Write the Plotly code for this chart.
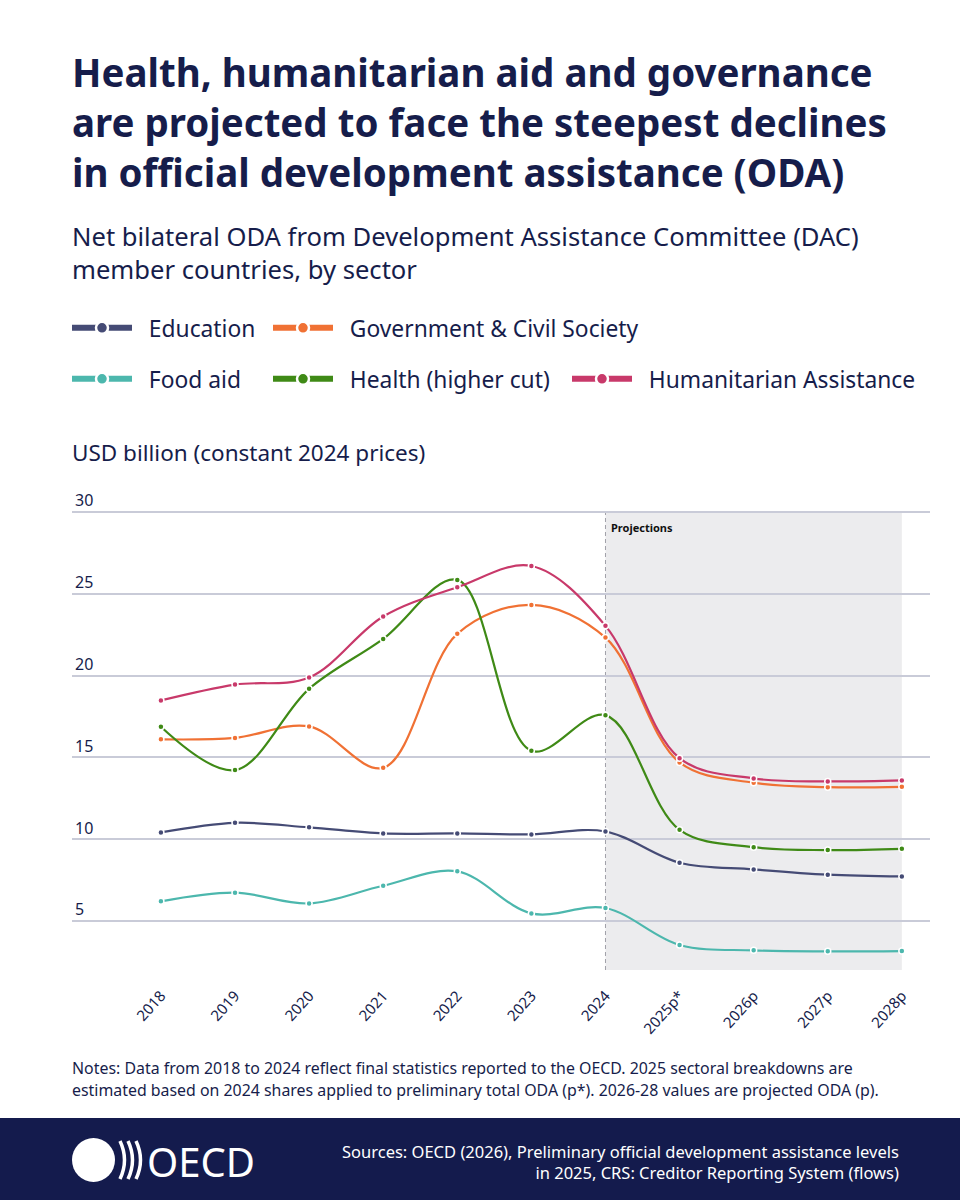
import plotly.graph_objects as go

# ---------------- data ----------------
years = ["2018", "2019", "2020", "2021", "2022", "2023", "2024",
         "2025p*", "2026p", "2027p", "2028p"]
education = [10.41, 11.0, 10.72, 10.35, 10.35, 10.29, 10.47, 8.56, 8.15, 7.83, 7.72]
government = [16.1, 16.19, 16.89, 14.36, 22.55, 24.32, 22.32, 14.69, 13.45, 13.18, 13.2]
food_aid = [6.2, 6.73, 6.07, 7.15, 8.03, 5.46, 5.79, 3.53, 3.2, 3.14, 3.16]
health = [16.87, 14.22, 19.19, 22.24, 25.85, 15.4, 17.58, 10.57, 9.51, 9.33, 9.41]
humanitarian = [18.48, 19.45, 19.88, 23.61, 25.4, 26.7, 23.04, 14.95, 13.71, 13.53, 13.59]
y_ticks = [5, 10, 15, 20, 25, 30]

series_names = ["Education", "Government & Civil Society", "Food aid",
                "Health (higher cut)", "Humanitarian Assistance"]
series_values = [education, government, food_aid, health, humanitarian]
series_colors = ["#454b75", "#f07134", "#4cb7ad", "#3f8a16", "#c8396a"]

NAVY = "#161d4b"
FONT = "Noto Sans"

# ---------------- geometry helpers (pixel -> paper) ----------------
W, H = 960, 1200
L, R, T, B = 72, 930, 475, 970
Y_MIN, Y_GRID_TOP = 2, 30
PX_PER_UNIT = (970 - 512) / (Y_GRID_TOP - Y_MIN)
Y_MAX = Y_GRID_TOP + (512 - T) / PX_PER_UNIT


def px(x):
    return (x - L) / (R - L)


def py(y):
    return (B - y) / (B - T)


fig = go.Figure()

# data traces
for name, vals, col in zip(series_names, series_values, series_colors):
    fig.add_trace(go.Scatter(
        x=years, y=vals, mode="lines+markers", name=name,
        line=dict(color=col, width=2.2, shape="spline", smoothing=1),
        marker=dict(size=6, color=col, line=dict(color="white", width=1.5)),
        showlegend=False, hoverinfo="x+y+name",
    ))

# legend-only entries (thicker symbols), one legend per entry
legend_pos = [(72, 328), (273, 328), (72, 379), (273, 379), (572, 379)]
legend_ids = ["legend", "legend2", "legend3", "legend4", "legend5"]
for name, col, lid in zip(series_names, series_colors, legend_ids):
    fig.add_trace(go.Scatter(
        x=[None], y=[None], mode="lines+markers", name="\u00a0\u00a0" + name,
        line=dict(color=col, width=6),
        marker=dict(size=12, color=col, line=dict(color="white", width=2.5)),
        showlegend=True, legend=lid, hoverinfo="skip",
    ))

layout_legends = {}
for lid, (lx, ly) in zip(legend_ids, legend_pos):
    layout_legends[lid] = dict(
        x=px(lx - 5), y=py(ly), xanchor="left", yanchor="middle",
        bgcolor="rgba(0,0,0,0)", borderwidth=0,
        font=dict(family=FONT, size=22.8, color=NAVY),
        itemwidth=60, orientation="h",
    )

shapes = [
    # projection band (2024 -> 2028p)
    dict(type="rect", xref="x", yref="y", x0=6, x1=10,
         y0=Y_MIN, y1=Y_GRID_TOP, fillcolor="#ececee", line=dict(width=0),
         layer="below"),
    # dashed divider at 2024
    dict(type="line", xref="x", yref="y", x0=6, x1=6,
         y0=Y_MIN, y1=Y_GRID_TOP, line=dict(color="#a0a0a8", width=1, dash="4px,3px"),
         layer="below"),
    # footer band
    dict(type="rect", xref="paper", yref="paper", x0=px(0), x1=px(W),
         y0=py(1118), y1=py(H), fillcolor="#141b4d", line=dict(width=0),
         layer="below"),
    # OECD globe
    dict(type="circle", xref="paper", yref="paper", x0=px(72), x1=px(115),
         y0=py(1182), y1=py(1138), fillcolor="white", line=dict(width=0)),
]
# arcs of the logo
for ax in (120, 128, 136):
    shapes.append(dict(
        type="path", xref="paper", yref="paper",
        path=f"M {px(ax)},{py(1141)} Q {px(ax + 9)},{py(1160)} {px(ax)},{py(1179)}",
        line=dict(color="white", width=3.5)))

annotations = []


def add_text(text, x, y, size, color=NAVY, weight=400, xanchor="left",
             yanchor="middle", align="left", family=FONT):
    annotations.append(dict(
        text=text, x=px(x), y=py(y), xref="paper", yref="paper",
        xanchor=xanchor, yanchor=yanchor, align=align, showarrow=False,
        font=dict(family=family, size=size, color=color, weight=weight)))


add_text("Health, humanitarian aid and governance<br>"
         "are projected to face the steepest declines<br>"
         "in official development assistance (ODA)", 70, 122, 38.5, weight=700)
add_text("Net bilateral ODA from Development Assistance Committee (DAC)<br>"
         "member countries, by sector", 70, 253, 25.6)
add_text("USD billion (constant 2024 prices)", 70, 453, 22.5)
add_text("Notes: Data from 2018 to 2024 reflect final statistics reported to the OECD. "
         "2025 sectoral breakdowns are", 70, 1068, 15.9)
add_text("estimated based on 2024 shares applied to preliminary total ODA (p*). "
         "2026-28 values are projected ODA (p).", 70, 1090, 15.9)
add_text("Sources: OECD (2026), Preliminary official development assistance levels<br>"
         "in 2025, CRS: Creditor Reporting System (flows)", 901, 1162, 16.5,
         color="white", xanchor="right", align="right")
add_text("OECD", 145, 1161, 40, color="white")
annotations.append(dict(
    text="Projections", x=6, y=Y_GRID_TOP, xref="x", yref="y",
    xanchor="left", yanchor="top", xshift=4, yshift=-6, showarrow=False,
    font=dict(family=FONT, size=11, color="#111111", weight=700)))

fig.update_layout(
    width=W, height=H,
    margin=dict(l=L, r=W - R, t=T, b=H - B, pad=0),
    paper_bgcolor="white", plot_bgcolor="rgba(0,0,0,0)",
    font=dict(family=FONT, color=NAVY),
    shapes=shapes, annotations=annotations,
    hovermode="closest",
    **layout_legends,
)
fig.update_xaxes(
    type="category", range=[-1.2, 10.38], showgrid=False, zeroline=False,
    showline=False, ticks="", tickangle=-48, ticklabelstandoff=13,
    tickfont=dict(family=FONT, size=15, color=NAVY),
)
fig.update_yaxes(
    range=[Y_MIN, Y_MAX], tickvals=y_ticks, ticktext=[str(v) for v in y_ticks],
    showgrid=True, gridcolor="#c9cbd8", gridwidth=1.5, zeroline=False,
    showline=False, ticks="", ticklabelposition="inside top",
    ticklabelstandoff=0,
    tickfont=dict(family=FONT, size=16, color=NAVY),
)

fig.write_html("out.html")
